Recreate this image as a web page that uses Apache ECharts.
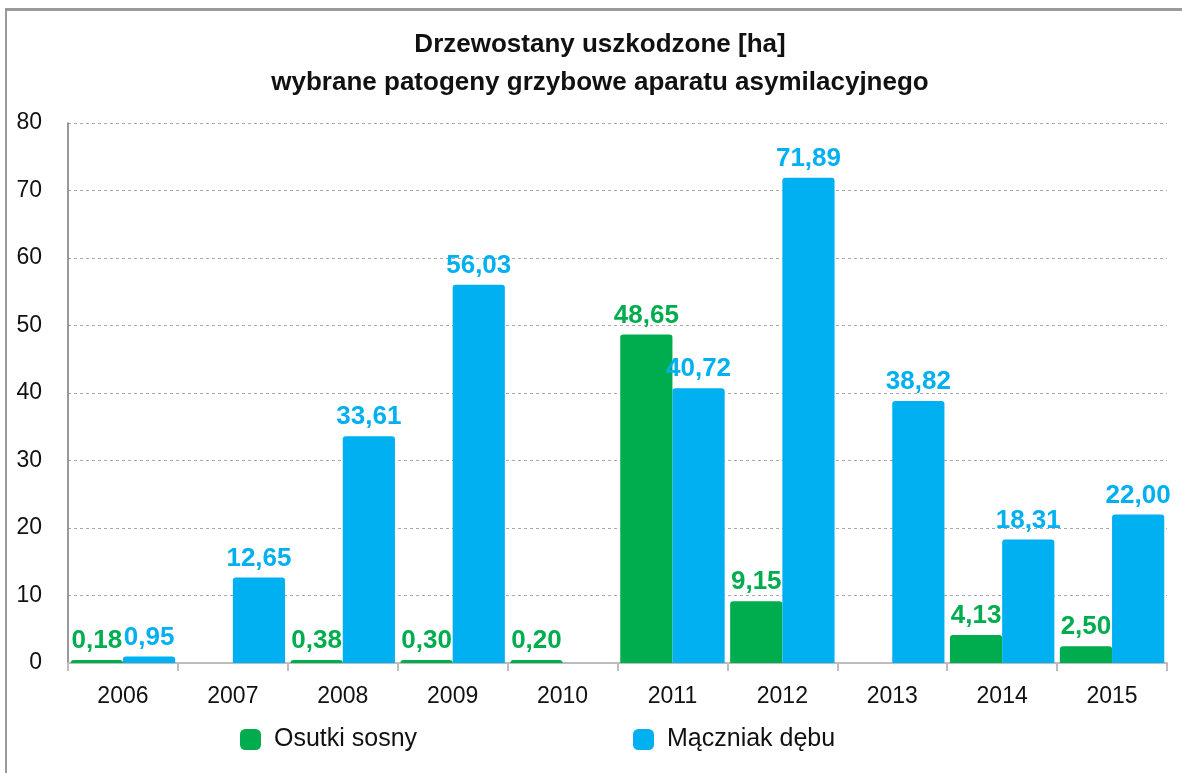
<!DOCTYPE html>
<html>
<head>
<meta charset="utf-8">
<script src="https://cdn.jsdelivr.net/npm/echarts@6/dist/echarts.min.js"></script>
<style>
  html, body { margin: 0; padding: 0; background: #fff; }
  #chart { width: 1182px; height: 773px; }
  #frame {
    position: absolute; left: 5px; top: 8px; right: 0; bottom: 0;
    border-top: 3px solid #9a9a9a; border-left: 2px solid #9a9a9a;
    pointer-events: none;
  }
</style>
</head>
<body>
<div id="chart"></div>
<div id="frame"></div>
<script>
// dane z wykresu
const lata = ["2006", "2007", "2008", "2009", "2010", "2011", "2012", "2013", "2014", "2015"];
const osutkiSosny = [0.18, null, 0.38, 0.30, 0.20, 48.65, 9.15, null, 4.13, 2.50];
const maczniakDebu = [0.95, 12.65, 33.61, 56.03, null, 40.72, 71.89, 38.82, 18.31, 22.00];
const nazwySerii = ["Osutki sosny", "Mączniak dębu"];

const font = '"Liberation Sans", Arial, sans-serif';
const zielony = "#00ad4e";
const niebieski = "#00b0f0";

function fmt(p) {
  return p.value == null ? "" : p.value.toFixed(2).replace(".", ",");
}

let myChart = echarts.init(document.getElementById("chart"));
let option = {
  animation: false,
  title: {
    text: "Drzewostany uszkodzone [ha]\nwybrane patogeny grzybowe aparatu asymilacyjnego",
    left: 595,
    textAlign: "center",
    top: 21,
    textStyle: {
      fontFamily: font,
      fontWeight: "bold",
      fontSize: 26,
      lineHeight: 38,
      color: "#111",
    },
  },
  legend: [
    {
      left: 235, top: 722,
      itemWidth: 21, itemHeight: 21,
      data: [{ name: nazwySerii[0], icon: "roundRect" }],
      textStyle: { fontFamily: font, fontSize: 25, color: "#111", padding: [0, 0, 0, 8] },
    },
    {
      left: 628, top: 722,
      itemWidth: 21, itemHeight: 21,
      data: [{ name: nazwySerii[1], icon: "roundRect" }],
      textStyle: { fontFamily: font, fontSize: 25, color: "#111", padding: [0, 0, 0, 8] },
    },
  ],
  grid: { left: 68, right: 15, top: 123, bottom: 110, containLabel: false },
  xAxis: {
    type: "category",
    data: lata,
    axisLine: { lineStyle: { color: "#bdbdbd", width: 2 } },
    axisTick: { show: true, length: 8, lineStyle: { color: "#bdbdbd", width: 2 } },
    axisLabel: { fontFamily: font, fontSize: 23, color: "#111", margin: 22 },
  },
  yAxis: {
    type: "value",
    min: 0, max: 80, interval: 10,
    axisLine: { show: true, lineStyle: { color: "#777", width: 1.5 } },
    axisTick: { show: false },
    axisLabel: { fontFamily: font, fontSize: 23, color: "#111", margin: 26 },
    splitLine: { lineStyle: { color: "#aaa", type: [3, 3], width: 1 } },
  },
  series: [
    {
      name: nazwySerii[0],
      type: "bar",
      data: osutkiSosny,
      barGap: "0%",
      barCategoryGap: "5%",
      barMinHeight: 3,
      itemStyle: { color: zielony, borderRadius: [3, 3, 0, 0] },
      label: {
        show: true, position: "top", distance: 6,
        formatter: fmt,
        fontFamily: font, fontWeight: "bold", fontSize: 26, color: zielony,
      },
    },
    {
      name: nazwySerii[1],
      type: "bar",
      data: maczniakDebu,
      barGap: "0%",
      barCategoryGap: "5%",
      barMinHeight: 3,
      itemStyle: { color: niebieski, borderRadius: [3, 3, 0, 0] },
      label: {
        show: true, position: "top", distance: 6,
        formatter: fmt,
        fontFamily: font, fontWeight: "bold", fontSize: 26, color: niebieski,
      },
    },
  ],
};
myChart.setOption(option);
window.addEventListener("resize", function () {
  myChart.resize();
});
</script>
</body>
</html>
